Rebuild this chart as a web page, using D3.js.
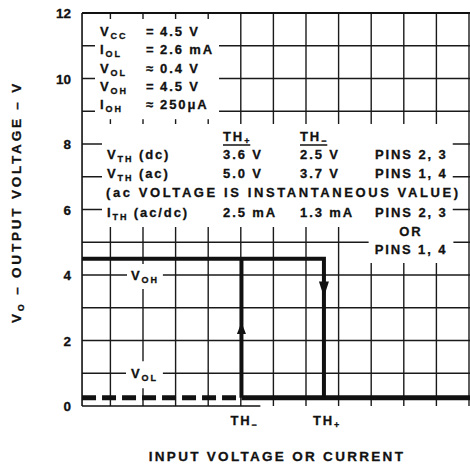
<!DOCTYPE html>
<html>
<head>
<meta charset="utf-8">
<script src="https://cdn.jsdelivr.net/npm/d3@7"></script>
<style>
  body { margin: 0; background: #fff; }
  text { font-family: "Liberation Sans", Arial, sans-serif; font-weight: bold; fill: #111; stroke: #111; stroke-width: 0.3px; }
</style>
</head>
<body>
<svg id="chart" width="470" height="468"></svg>
<script>
// axis ticks and grid
const yTicks = [0, 2, 4, 6, 8, 10, 12];
const yGrid = [1, 2, 3, 4, 5, 6, 7, 8, 9, 10, 11];
const xGrid = [1, 2, 3, 4, 5, 6, 7, 8, 9, 10, 11, 12];

// transfer characteristic (x in grid divisions, y in volts)
const vHigh = 4.5;
const vLow = 0.25;
const thMinus = 5.02;
const thPlus = 7.55;
const xFrom = 0.13;
const xTo = 12.1;
const upArrow = [2.2, 2.56];    // base, tip
const downArrow = [3.8, 3.33];  // base, tip

// conditions block
const condNames = [['V', 'CC'], ['I', 'OL'], ['V', 'OL'], ['V', 'OH'], ['I', 'OH']];
const condSigns = ['=', '=', '≈', '=', '≈'];
const condValues = ['4.5 V', '2.6 mA', '0.4 V', '4.5 V', '250μA'];

// threshold table
const rowNames = [['V', 'TH', ' (dc)'], ['V', 'TH', ' (ac)'], ['I', 'TH', ' (ac/dc)']];
const thPlusValues = ['3.6 V', '5.0 V', '2.5 mA'];
const thMinusValues = ['2.5 V', '3.7 V', '1.3 mA'];
const pinLabels = ['PINS 2, 3', 'PINS 1, 4', 'PINS 2, 3'];
const acNote = '(ac VOLTAGE IS INSTANTANEOUS VALUE)';
const orLines = ['OR', 'PINS 1, 4'];

const svg = d3.select('#chart');
const x = d3.scaleLinear().domain([0, 12]).range([77.8, 469]);
const y = d3.scaleLinear().domain([0, 12]).range([406, 13]);

const gGrid = svg.append('g');
const gMask = svg.append('g');
const gCurve = svg.append('g');
const gText = svg.append('g');

// grid
gGrid.selectAll('.hg').data(yGrid).enter().append('line')
    .attr('x1', x(xFrom)).attr('x2', 470)
    .attr('y1', d => y(d)).attr('y2', d => y(d))
    .attr('stroke', '#1a1a1a').attr('stroke-width', 1.4);

gGrid.selectAll('.vg').data(xGrid).enter().append('line')
    .attr('x1', d => x(d)).attr('x2', d => x(d))
    .attr('y1', y(0)).attr('y2', y(12))
    .attr('stroke', '#1a1a1a').attr('stroke-width', 1.4);

// frame
gGrid.append('line')
    .attr('x1', x(xFrom)).attr('x2', x(xFrom))
    .attr('y1', y(0)).attr('y2', y(12))
    .attr('stroke', '#111').attr('stroke-width', 1.6);
gGrid.append('line')
    .attr('x1', x(xFrom)).attr('x2', 470)
    .attr('y1', y(12)).attr('y2', y(12))
    .attr('stroke', '#111').attr('stroke-width', 2.2);
gGrid.append('line')
    .attr('x1', x(xFrom)).attr('x2', x(5.6))
    .attr('y1', y(0)).attr('y2', y(0))
    .attr('stroke', '#111').attr('stroke-width', 1.6);

// tick labels
gText.selectAll('.yt').data(yTicks).enter().append('text')
    .attr('x', 71).attr('y', d => y(d) + 5)
    .attr('text-anchor', 'end')
    .style('font-size', '13.5px')
    .text(d => d);

// helper: text with a subscript part
function rich(g, px, py, parts, size) {
    const t = g.append('text').attr('x', px).attr('y', py)
        .style('font-size', (size || 13) + 'px')
        .style('letter-spacing', '1.9px');
    parts.forEach((p, i) => {
        if (!p) return;
        const s = t.append('tspan').text(p);
        if (i === 1) s.style('font-size', '9px').attr('dy', 3);
        else if (i === 2) s.attr('dy', -3);
    });
    return t;
}

function plain(g, px, py, s) {
    return g.append('text').attr('x', px).attr('y', py)
        .style('font-size', '13px').style('letter-spacing', '1.9px')
        .text(s);
}

function maskBox(nodes, pad) {
    const boxes = nodes.map(n => n.getBBox());
    const x0 = d3.min(boxes, b => b.x) - pad;
    const y0 = d3.min(boxes, b => b.y) - pad;
    const x1 = d3.max(boxes, b => b.x + b.width) + pad;
    const y1 = d3.max(boxes, b => b.y + b.height) + pad;
    gMask.append('rect')
        .attr('x', x0).attr('y', y0)
        .attr('width', x1 - x0).attr('height', y1 - y0)
        .attr('fill', '#fff');
}

// conditions block
const condNodes = [];
condNames.forEach((n, i) => {
    const by = 36 + i * 18.3;
    condNodes.push(rich(gText, 100, by, n).node());
    condNodes.push(gText.append('text').attr('x', 146).attr('y', by)
        .style('font-size', '13px').text(condSigns[i]).node());
    condNodes.push(plain(gText, 160, by, condValues[i]).node());
});
maskBox(condNodes, 5);

// threshold table
const tabNodes = [];
const headers = [['TH', '+'], ['TH', '−']];
const colX = [223, 300];
headers.forEach((h, i) => {
    const t = rich(gText, colX[i], 141, h);
    tabNodes.push(t.node());
    const b = t.node().getBBox();
    gText.append('line')
        .attr('x1', b.x).attr('x2', b.x + b.width - 1)
        .attr('y1', 145).attr('y2', 145)
        .attr('stroke', '#111').attr('stroke-width', 1.5);
});
const rowY = [159, 178, 217];
rowNames.forEach((n, i) => {
    tabNodes.push(rich(gText, 107, rowY[i], n).node());
    tabNodes.push(plain(gText, colX[0], rowY[i], thPlusValues[i]).node());
    tabNodes.push(plain(gText, colX[1], rowY[i], thMinusValues[i]).node());
    tabNodes.push(plain(gText, 375, rowY[i], pinLabels[i]).node());
});
maskBox(tabNodes, 5);
const note = gText.append('text').attr('x', 106).attr('y', 197)
    .style('font-size', '13px')
    .attr('textLength', 352).attr('lengthAdjust', 'spacing')
    .text(acNote);
maskBox([note.node()], 4);

const orNodes = orLines.map((s, i) => plain(gText, 411, 236 + i * 18, s)
    .attr('text-anchor', 'middle').node());
maskBox(orNodes, 6);

// level labels on the grid
const vohLabel = rich(gText, 131, y(4) + 5, ['V', 'OH']);
maskBox([vohLabel.node()], 4);
const volLabel = rich(gText, 131, y(1) + 5, ['V', 'OL']);
maskBox([volLabel.node()], 5);

// transfer curve
const line = d3.line().x(d => x(d[0])).y(d => y(d[1]));
gCurve.append('path')
    .attr('d', line([[xFrom, vLow], [thMinus, vLow]]))
    .attr('fill', 'none').attr('stroke', '#111')
    .attr('stroke-width', 5).attr('stroke-dasharray', '14,6');
gCurve.append('path')
    .attr('d', line([[thMinus, vLow], [xTo, vLow]]))
    .attr('fill', 'none').attr('stroke', '#111').attr('stroke-width', 5);
gCurve.append('path')
    .attr('d', line([[thMinus, vLow], [thMinus, vHigh]]))
    .attr('fill', 'none').attr('stroke', '#111').attr('stroke-width', 4);
gCurve.append('path')
    .attr('d', line([[xFrom, vHigh], [thPlus, vHigh], [thPlus, vLow]]))
    .attr('fill', 'none').attr('stroke', '#111').attr('stroke-width', 4)
    .attr('stroke-linejoin', 'miter');

// arrows
function arrow(xv, base, tip, hw) {
    gCurve.append('path')
        .attr('d', `M${x(xv) - hw},${y(base)}L${x(xv) + hw},${y(base)}L${x(xv)},${y(tip)}Z`)
        .attr('fill', '#111');
}
arrow(thMinus, upArrow[0], upArrow[1], 4.5);
arrow(thPlus, downArrow[0], downArrow[1], 5);

// threshold labels under the axis
[[thMinus, '−'], [thPlus, '+']].forEach(d => {
    rich(gText, x(d[0]) - 11, 425, ['TH', d[1]]);
});

// axis titles
gText.append('text')
    .attr('x', 277).attr('y', 461)
    .attr('text-anchor', 'middle')
    .style('font-size', '13.5px').style('letter-spacing', '2.3px')
    .text('INPUT VOLTAGE OR CURRENT');

const yt = gText.append('text')
    .attr('transform', 'translate(21,202) rotate(-90)')
    .attr('text-anchor', 'middle')
    .style('font-size', '13.5px').style('letter-spacing', '2.8px');
yt.append('tspan').text('V');
yt.append('tspan').text('O').style('font-size', '9px').attr('dy', 3);
yt.append('tspan').text(' – OUTPUT VOLTAGE – V').attr('dy', -3);
</script>
</body>
</html>
